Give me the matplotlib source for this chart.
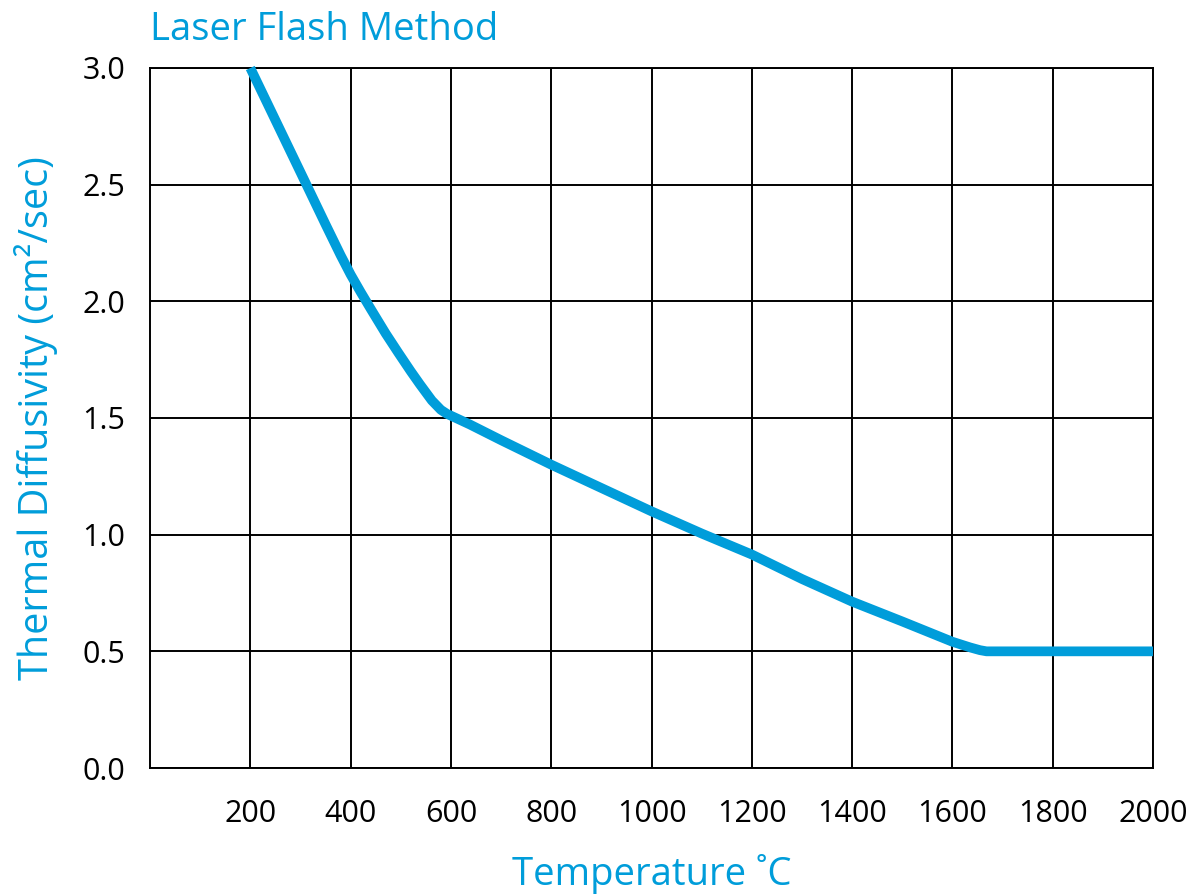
import matplotlib
matplotlib.use("Agg")
import matplotlib.pyplot as plt

plt.rcParams['font.family'] = ['Open Sans', 'DejaVu Sans']

temperature = [200, 312, 350, 380, 400, 420, 440, 470, 495, 520, 538, 562, 580, 592,
               605, 638, 700, 800, 900, 1000, 1100, 1200, 1300, 1400, 1500, 1600,
               1635, 1655, 1668, 2000]
diffusivity = [3.0, 2.5, 2.33, 2.198, 2.115, 2.04, 1.968, 1.862, 1.78, 1.70, 1.645, 1.575,
               1.535, 1.518, 1.505, 1.472, 1.405, 1.30, 1.20, 1.10, 1.005, 0.915, 0.81,
               0.713, 0.628, 0.541, 0.517, 0.505, 0.5, 0.5]

x_ticks = [200, 400, 600, 800, 1000, 1200, 1400, 1600, 1800, 2000]
y_ticks = [0.0, 0.5, 1.0, 1.5, 2.0, 2.5, 3.0]

blue = '#009DDA'
W, H = 1196, 894

fig = plt.figure(figsize=(W / 100, H / 100), dpi=100)
ax = fig.add_axes([150 / W, 1 - 768 / H, (1153 - 150) / W, (768 - 68) / H])

ax.set_xlim(0, 2000)
ax.set_ylim(0, 3.0)
ax.set_xticks(x_ticks)
ax.set_yticks(y_ticks)
ax.set_xticklabels([str(t) for t in x_ticks])
ax.set_yticklabels([f"{t:.1f}" for t in y_ticks])
ax.tick_params(axis='both', length=0, labelsize=22, colors='black')
ax.tick_params(axis='x', pad=22)
ax.tick_params(axis='y', pad=18)

ax.grid(True, color='black', linewidth=1.4)
ax.set_axisbelow(True)
for s in ax.spines.values():
    s.set_color('black')
    s.set_linewidth(1.4)

ax.plot(temperature, diffusivity, color=blue, linewidth=7,
        solid_capstyle='butt', solid_joinstyle='round', clip_on=False, zorder=5)

fig.text(652 / W, 1 - 885 / H, 'Temperature ˚C', color=blue, fontsize=27.5,
         ha='center', va='baseline')
fig.text(48 / W, 1 - 418 / H, 'Thermal Diffusivity (cm²/sec)', color=blue,
         fontsize=28.5, ha='center', va='baseline', rotation=90,
         rotation_mode='anchor')
fig.text(150 / W, 1 - 40 / H, 'Laser Flash Method', color=blue, fontsize=27.5,
         ha='left', va='baseline')

fig.savefig('out.png', dpi=100)
